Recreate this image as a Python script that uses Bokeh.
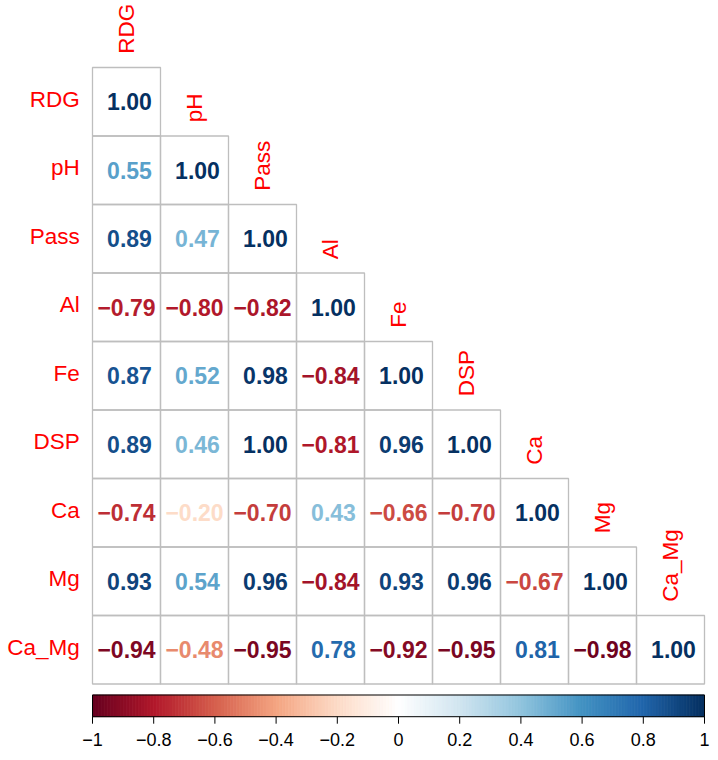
import numpy as np
from bokeh.plotting import figure
from bokeh.models import Range1d, ColumnDataSource
from bokeh.core.properties import value
from bokeh.embed import file_html
from bokeh.resources import INLINE

labels = ["RDG", "pH", "Pass", "Al", "Fe", "DSP", "Ca", "Mg", "Ca_Mg"]
row_RDG = [1.00]
row_pH = [0.55, 1.00]
row_Pass = [0.89, 0.47, 1.00]
row_Al = [-0.79, -0.80, -0.82, 1.00]
row_Fe = [0.87, 0.52, 0.98, -0.84, 1.00]
row_DSP = [0.89, 0.46, 1.00, -0.81, 0.96, 1.00]
row_Ca = [-0.74, -0.20, -0.70, 0.43, -0.66, -0.70, 1.00]
row_Mg = [0.93, 0.54, 0.96, -0.84, 0.93, 0.96, -0.67, 1.00]
row_CaMg = [-0.94, -0.48, -0.95, 0.78, -0.92, -0.95, 0.81, -0.98, 1.00]
rows = [row_RDG, row_pH, row_Pass, row_Al, row_Fe, row_DSP, row_Ca, row_Mg, row_CaMg]
cb_ticks = [-1, -0.8, -0.6, -0.4, -0.2, 0, 0.2, 0.4, 0.6, 0.8, 1]

anchors = ["#67001F", "#B2182B", "#D6604D", "#F4A582", "#FDDBC7", "#FFFFFF",
           "#D1E5F0", "#92C5DE", "#4393C3", "#2166AC", "#053061"]


def hex2rgb(h):
    return [int(h[i:i + 2], 16) for i in (1, 3, 5)]


arr = np.array([hex2rgb(a) for a in anchors], dtype=float)
pos = np.linspace(0, 1, len(anchors))
t = np.linspace(0, 1, 200)
palette = []
for tt in t:
    rgb = [np.interp(tt, pos, arr[:, k]) for k in range(3)]
    palette.append("#%02x%02x%02x" % tuple(int(round(c)) for c in rgb))


def col_for(v):
    return palette[int(round((v + 1) / 2 * 199))]


def fmt(v):
    return f"{v:.2f}".replace("-", "\u2212")


n = len(labels)
W, H = 710, 752
cell_px_x = 68.0
cell_px_y = 68.5
gx0 = 92.0   # grid left in px
gy0 = 67.0   # grid top in px
x0 = -gx0 / cell_px_x
x1 = x0 + W / cell_px_x
ytop = n + gy0 / cell_px_y
ybot = ytop - H / cell_px_y

p = figure(width=W, height=H, x_range=Range1d(x0, x1), y_range=Range1d(ybot, ytop),
           output_backend="svg", toolbar_location=None, min_border=0,
           x_axis_location=None, y_axis_location=None)
p.grid.visible = False
p.outline_line_color = None
p.background_fill_color = "white"
p.border_fill_color = "white"

FONT = value("Liberation Sans")

# cells
cx, cy, ct, cc, cxo = [], [], [], [], []
for i, r in enumerate(rows):
    for j, v in enumerate(r):
        cx.append(j + 0.5)
        cy.append(n - i - 0.5)
        ct.append(fmt(v))
        cc.append(col_for(v))
        cxo.append(3 if v >= 0 else 0)
src = ColumnDataSource(dict(x=cx, y=cy, text=ct, color=cc, xo=cxo))
p.rect(x="x", y="y", width=1, height=1, source=src, fill_color=None,
       line_color="#BEBEBE", line_width=1.3)
p.text(x="x", y="y", text="text", source=src, text_color="color",
       text_font=FONT, text_font_size="23px", text_font_style="bold",
       text_align="center", text_baseline="middle", x_offset="xo")

# left labels
p.text(x=[-0.187] * n, y=[n - i - 0.5 + 0.04 for i in range(n)], text=labels,
       text_color="#FF0000", text_font=FONT, text_font_size="22.5px",
       text_align="right", text_baseline="middle")
# top labels
p.text(x=[j + 0.5 for j in range(n)], y=[n - j + 0.2 for j in range(n)], text=labels,
       text_color="#FF0000", text_font=FONT, text_font_size="22.5px",
       text_align="left", text_baseline="middle", angle=np.pi / 2)

# colorbar via extra range
s = 2.0 / n
p.extra_x_ranges = {"cb": Range1d(-1 + x0 * s, -1 + x1 * s)}
cb_top = -11 / cell_px_y
cb_bot = -32.7 / cell_px_y
edges = np.linspace(-1, 1, len(palette) + 1)
p.quad(left=edges[:-1], right=edges[1:], top=cb_top, bottom=cb_bot,
       fill_color=palette, line_color=palette, line_width=0.8, x_range_name="cb")
p.quad(left=[-1], right=[1], top=cb_top, bottom=cb_bot, fill_color=None,
       line_color="black", line_width=1, x_range_name="cb")
p.segment(x0=cb_ticks, x1=cb_ticks, y0=cb_bot, y1=cb_bot - 7 / cell_px_y,
          line_color="black", line_width=1, x_range_name="cb")
tick_txt = [("%g" % v).replace("-", "\u2212") for v in cb_ticks]
p.text(x=cb_ticks, y=[cb_bot - 23 / cell_px_y] * len(cb_ticks), text=tick_txt,
       text_color="black", text_font=FONT, text_font_size="18px",
       text_align="center", text_baseline="middle", x_range_name="cb")

open("out.html", "w").write(file_html(p, INLINE))
